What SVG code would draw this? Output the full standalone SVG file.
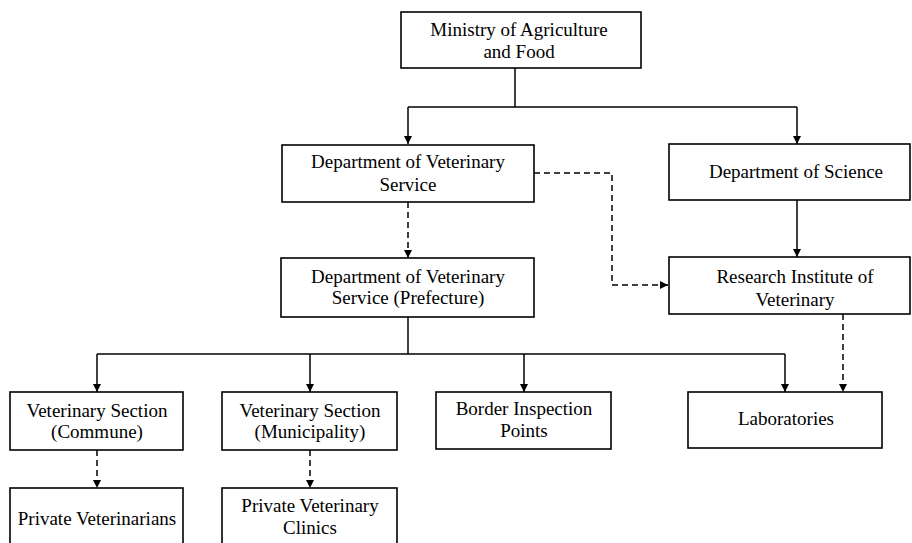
<svg xmlns="http://www.w3.org/2000/svg" width="912" height="543" viewBox="0 0 912 543">
<style>
.box{fill:#fff;stroke:#000;stroke-width:1.6}
.t{font-family:"Liberation Serif","Times New Roman",serif;font-size:19px;fill:#000;text-anchor:middle}
.c{fill:none;stroke:#000;stroke-width:1.5}
.d{fill:none;stroke:#000;stroke-width:1.5;stroke-dasharray:6 4}
</style>
<defs>
<marker id="ah" viewBox="0 0 10 10" refX="10" refY="5" markerWidth="8" markerHeight="8" markerUnits="userSpaceOnUse" orient="auto">
<path d="M0,0 L10,5 L0,10 Z" fill="#000"/>
</marker>
</defs>
<rect width="912" height="543" fill="#fff"/>
<g id="connectors">
<path class="c" d="M515,68 V107"/>
<path class="c" d="M408,107 H797"/>
<path class="c" d="M408,107 V144" marker-end="url(#ah)"/>
<path class="c" d="M797,107 V144" marker-end="url(#ah)"/>
<path class="c" d="M797,200 V257" marker-end="url(#ah)"/>
<path class="d" d="M534,173 H612 V285 H668" marker-end="url(#ah)"/>
<path class="d" d="M408,202 V258" marker-end="url(#ah)"/>
<path class="c" d="M408,317 V354"/>
<path class="c" d="M97,354 H785"/>
<path class="c" d="M97,354 V392" marker-end="url(#ah)"/>
<path class="c" d="M310,354 V392" marker-end="url(#ah)"/>
<path class="c" d="M524,354 V392" marker-end="url(#ah)"/>
<path class="c" d="M785,354 V392" marker-end="url(#ah)"/>
<path class="d" d="M843,314 V392" marker-end="url(#ah)"/>
<path class="d" d="M97,450 V488" marker-end="url(#ah)"/>
<path class="d" d="M310,450 V488" marker-end="url(#ah)"/>
</g>
<g id="ministry">
<rect class="box" x="401" y="12" width="240" height="56"/>
<text class="t" x="519" y="36">Ministry of Agriculture</text>
<text class="t" x="519" y="58">and Food</text>
</g>
<g id="dept-vet">
<rect class="box" x="282" y="145" width="252" height="57"/>
<text class="t" x="408" y="168">Department of Veterinary</text>
<text class="t" x="408" y="191">Service</text>
</g>
<g id="dept-science">
<rect class="box" x="669" y="144" width="241" height="56"/>
<text class="t" x="796" y="178">Department of Science</text>
</g>
<g id="research">
<rect class="box" x="669" y="257" width="241" height="57"/>
<text class="t" x="795" y="283">Research Institute of</text>
<text class="t" x="795" y="306">Veterinary</text>
</g>
<g id="dept-vet-pref">
<rect class="box" x="281" y="258" width="253" height="59"/>
<text class="t" x="408" y="283">Department of Veterinary</text>
<text class="t" x="408" y="304">Service (Prefecture)</text>
</g>
<g id="commune">
<rect class="box" x="10" y="392" width="173" height="58"/>
<text class="t" x="97" y="417">Veterinary Section</text>
<text class="t" x="97" y="438">(Commune)</text>
</g>
<g id="municipality">
<rect class="box" x="222" y="392" width="175" height="58"/>
<text class="t" x="310" y="417">Veterinary Section</text>
<text class="t" x="310" y="438">(Municipality)</text>
</g>
<g id="border">
<rect class="box" x="436" y="392" width="175" height="57"/>
<text class="t" x="524" y="415">Border Inspection</text>
<text class="t" x="524" y="437">Points</text>
</g>
<g id="labs">
<rect class="box" x="688" y="392" width="194" height="56"/>
<text class="t" x="786" y="425">Laboratories</text>
</g>
<g id="private-vets">
<rect class="box" x="10" y="488" width="173" height="60"/>
<text class="t" x="97" y="525">Private Veterinarians</text>
</g>
<g id="private-clinics">
<rect class="box" x="222" y="488" width="175" height="60"/>
<text class="t" x="310" y="512">Private Veterinary</text>
<text class="t" x="310" y="534">Clinics</text>
</g>
</svg>
